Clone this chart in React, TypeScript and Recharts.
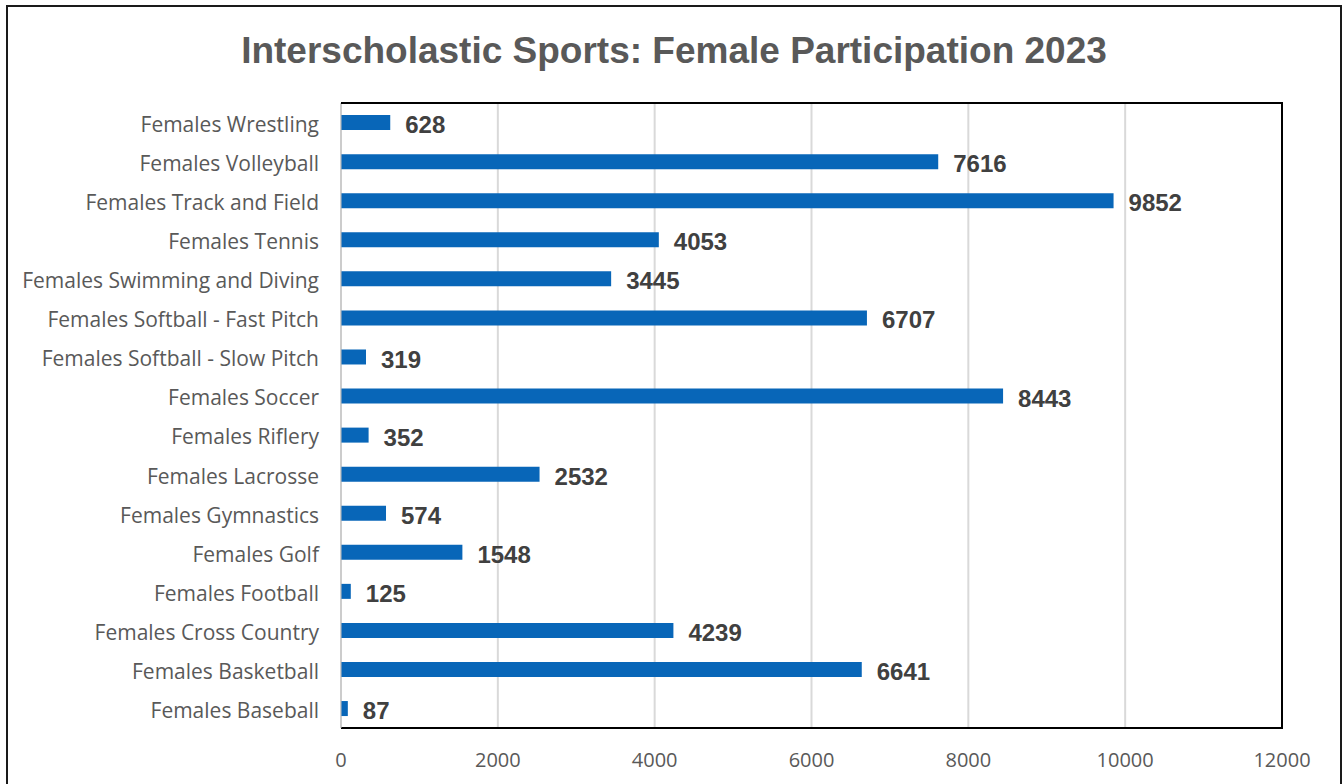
import React from "react";
import {
  BarChart,
  Bar,
  XAxis,
  YAxis,
  CartesianGrid,
  LabelList,
} from "recharts";

const sports = [
  "Females Wrestling",
  "Females Volleyball",
  "Females Track and Field",
  "Females Tennis",
  "Females Swimming and Diving",
  "Females Softball - Fast Pitch",
  "Females Softball - Slow Pitch",
  "Females Soccer",
  "Females Riflery",
  "Females Lacrosse",
  "Females Gymnastics",
  "Females Golf",
  "Females Football",
  "Females Cross Country",
  "Females Basketball",
  "Females Baseball",
];

const participants = [
  628, 7616, 9852, 4053, 3445, 6707, 319, 8443, 352, 2532, 574, 1548, 125,
  4239, 6641, 87,
];

const xTicks = [0, 2000, 4000, 6000, 8000, 10000, 12000];

const data = sports.map((sport, i) => ({ sport, value: participants[i] }));

const labelFont = "'Open Sans', Lato, sans-serif";
const boldFont = "'Liberation Sans', Arial, sans-serif";

export default function App() {
  return (
    <div
      style={{
        position: "absolute",
        left: 0,
        top: 0,
        width: 1343,
        height: 784,
        background: "#fff",
        overflow: "hidden",
      }}
    >
      <div
        style={{
          position: "absolute",
          left: 6,
          top: 5,
          width: 1336,
          height: 800,
          border: "2px solid #1a1a1a",
          boxSizing: "border-box",
        }}
      />
      <div
        style={{
          position: "absolute",
          left: 0,
          top: 30,
          width: 1348,
          textAlign: "center",
          fontFamily: boldFont,
          fontWeight: "bold",
          fontSize: 37,
          color: "#595959",
        }}
      >
        Interscholastic Sports: Female Participation 2023
      </div>
      <div style={{ position: "absolute", left: 0, top: 0 }}>
        <BarChart
          width={1343}
          height={784}
          data={data}
          layout="vertical"
          margin={{ top: 103, right: 61, bottom: 16, left: 0 }}
          barCategoryGap="31%"
        >
          <CartesianGrid horizontal={false} stroke="#d9d9d9" strokeWidth={2} />
          <XAxis
            type="number"
            domain={[0, 12000]}
            ticks={xTicks}
            height={40}
            tickLine={false}
            tickSize={0}
            tickMargin={25}
            axisLine={{ stroke: "#000", strokeWidth: 2 }}
            tick={{ fill: "#595959", fontSize: 20, fontFamily: labelFont }}
          />
          <YAxis
            type="category"
            dataKey="sport"
            width={341}
            tickLine={false}
            tickSize={0}
            tickMargin={22}
            interval={0}
            axisLine={{ stroke: "#bfbfbf", strokeWidth: 1 }}
            tick={{ fill: "#595959", fontSize: 21, fontFamily: labelFont, dy: 2 }}
          />
          <Bar dataKey="value" fill="#0866B8" isAnimationActive={false}>
            <LabelList
              dataKey="value"
              position="right"
              offset={15}
              fill="#404040"
              fontSize={24}
              fontWeight="bold"
              fontFamily={boldFont}
              dy={2}
            />
          </Bar>
        </BarChart>
      </div>
      <div
        style={{
          position: "absolute",
          left: 341,
          top: 102,
          width: 942,
          height: 627,
          borderTop: "2px solid #000",
          borderRight: "2px solid #000",
          boxSizing: "border-box",
          pointerEvents: "none",
        }}
      />
    </div>
  );
}
